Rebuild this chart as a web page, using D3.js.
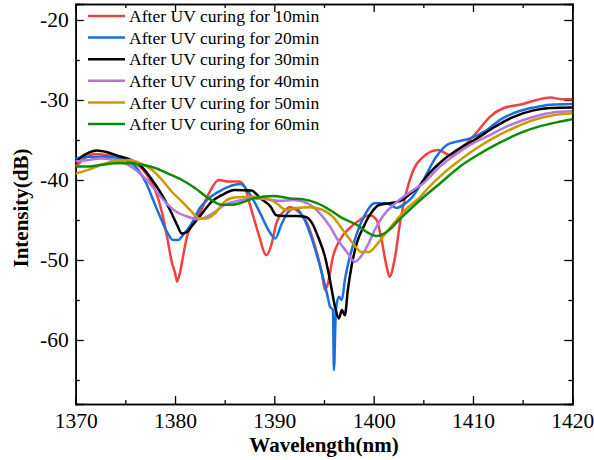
<!DOCTYPE html>
<html>
<head>
<meta charset="utf-8">
<script src="https://cdn.jsdelivr.net/npm/d3@7"></script>
<style>
  body { margin: 0; background: #fff; }
  svg text { font-family: "Liberation Serif", "Times New Roman", serif; }
</style>
</head>
<body>
<div id="chart"></div>
<script>
// dados: [comprimento de onda (nm), intensidade (dB)]
let uv10 = [[1370,-38.3],[1371.9,-36.75],[1374,-37.1],[1376,-37.9],[1377.3,-39.6],[1378,-41.25],[1378.7,-44.1],[1379.2,-47.1],[1379.7,-50.4],[1380,-51.6],[1380.2,-52.7],[1380.5,-51.6],[1380.8,-49.6],[1381.2,-47.1],[1381.7,-45.4],[1382.5,-44.1],[1383.4,-41.7],[1384.4,-40],[1385.4,-40.2],[1386.4,-40.2],[1387,-40.8],[1387.5,-42.9],[1388.4,-46.7],[1389.2,-49.4],[1389.7,-48.1],[1390.2,-45.4],[1390.9,-44],[1391.6,-43.4],[1392.2,-43.75],[1393.3,-45.4],[1394.1,-48.3],[1394.8,-51.7],[1395.1,-53.75],[1395.4,-52.9],[1395.9,-49.6],[1396.6,-47.5],[1397.6,-46],[1398.6,-45],[1399.6,-44.4],[1400.3,-45],[1400.8,-47.5],[1401.3,-50.8],[1401.6,-52.1],[1402.1,-50],[1402.7,-45],[1403.3,-41.5],[1404,-38.75],[1405,-37.1],[1406.5,-36.25],[1407.7,-36.9],[1409,-35.8],[1410.4,-34],[1411.7,-32.1],[1413.1,-31],[1414.7,-30.6],[1416.4,-30],[1417.8,-29.7],[1418.9,-29.9],[1420,-29.9]];
let uv20 = [[1370,-37.3],[1371.3,-37.1],[1373,-37.1],[1375,-37.5],[1376.3,-38.75],[1377.1,-40.4],[1377.8,-42.5],[1378.5,-44.6],[1379.2,-46.5],[1379.8,-47.5],[1380.3,-47.5],[1380.8,-46.9],[1381.7,-45.4],[1382.5,-43.5],[1383.4,-42.3],[1384.7,-41.25],[1386,-40.6],[1386.6,-40.5],[1387.5,-41.7],[1388.6,-44.2],[1389.4,-46.25],[1390.1,-47.3],[1390.7,-45.6],[1391.4,-44],[1392.1,-43.5],[1392.8,-44.4],[1393.6,-46.7],[1394.6,-50.8],[1395.3,-54.2],[1395.6,-55.8],[1395.9,-56.25],[1396.0,-63.75],[1396.2,-56.25],[1396.5,-54.6],[1396.8,-55],[1397.1,-52.5],[1397.6,-49.6],[1398.3,-46.7],[1399.1,-44.4],[1400.1,-42.9],[1401.3,-42.9],[1402.3,-43.5],[1403,-43.1],[1403.7,-42.4],[1405,-40],[1406.3,-37.1],[1407.4,-35.6],[1408.4,-35.2],[1409.7,-34.8],[1411.4,-33.75],[1412.7,-32.5],[1414.4,-31.5],[1416.1,-30.95],[1417.8,-30.6],[1420,-30.5]];
let uv30 = [[1370,-37.9],[1370.6,-37.1],[1371.3,-36.6],[1372.1,-36.3],[1373.1,-36.5],[1374.3,-37],[1375.6,-37.5],[1376.6,-38.3],[1377.7,-40],[1378.7,-41.9],[1379.5,-43.75],[1380.2,-45.6],[1380.7,-46.7],[1381.2,-46.5],[1381.8,-45.6],[1382.7,-44.2],[1383.7,-42.7],[1384.7,-41.9],[1386,-41.25],[1387.7,-41.3],[1388.6,-42.3],[1389.6,-43.3],[1390.2,-44.4],[1390.9,-44.5],[1392.2,-44.5],[1393.1,-44.6],[1393.8,-45.4],[1394.4,-47.1],[1395.1,-49.6],[1395.6,-52.5],[1396.1,-55.8],[1396.5,-57.3],[1396.8,-56.25],[1397.1,-56.9],[1397.4,-53.75],[1397.8,-50.6],[1398.3,-47.9],[1399,-45.8],[1399.6,-44.4],[1400.6,-43.1],[1401.6,-42.9],[1402.7,-42.6],[1403.7,-41.7],[1404.7,-40.6],[1405.3,-39.6],[1407,-37.5],[1408.7,-36],[1410.4,-34.8],[1412,-33.5],[1414.1,-32.1],[1416.1,-31.3],[1417.8,-31],[1420,-30.95]];
let uv40 = [[1370,-37.7],[1371.3,-37.5],[1372.6,-37.3],[1374,-37.5],[1375.3,-38.1],[1376.3,-39],[1377.3,-40.2],[1378.3,-41.7],[1379.3,-43.1],[1380.3,-44.1],[1381.3,-44.6],[1382.2,-44.9],[1383,-44.7],[1384,-44],[1385,-43.1],[1386,-42.7],[1387.9,-42.3],[1389.2,-42.4],[1390.6,-42.6],[1391.9,-42.5],[1393.3,-42.9],[1394.6,-44.2],[1395.6,-45.8],[1396.4,-47.5],[1397.3,-49],[1398.1,-50.2],[1398.8,-49.4],[1399.5,-47.9],[1400.1,-46.25],[1401,-44.4],[1402,-43.1],[1403,-42.1],[1404,-41.25],[1405,-40.4],[1406.7,-38.3],[1408.4,-36.7],[1410,-35.4],[1411.7,-34.4],[1413.4,-33.3],[1415.1,-32.5],[1416.7,-31.9],[1418.4,-31.5],[1420,-31.4]];
let uv50 = [[1370,-39.2],[1371.3,-38.7],[1372.6,-38.1],[1374,-37.6],[1375.3,-37.5],[1376.5,-37.9],[1377.7,-38.75],[1378.7,-40],[1379.7,-41.5],[1380.7,-42.7],[1381.7,-44],[1382.5,-44.8],[1383.2,-44.8],[1384,-44.2],[1385,-42.7],[1386,-42.2],[1387.9,-42.1],[1389.2,-42.3],[1390.2,-42.9],[1391.2,-43.75],[1392.2,-43.5],[1393.6,-43.4],[1394.9,-43.75],[1395.9,-44.6],[1396.9,-46.25],[1397.9,-47.9],[1398.8,-49],[1399.5,-49],[1400.3,-48.1],[1401.3,-46.5],[1402.3,-45],[1403.3,-43.6],[1404.7,-42.1],[1405.3,-41.25],[1407,-39.2],[1408.7,-37.5],[1410.4,-36],[1412,-34.8],[1414.1,-33.5],[1416.1,-32.5],[1418.1,-31.9],[1420,-31.7]];
let uv60 = [[1370,-38.3],[1371.3,-38.3],[1372.6,-38.1],[1374,-37.9],[1375.3,-37.9],[1376.6,-38.1],[1378,-38.5],[1379.3,-39.2],[1380.7,-40],[1382,-41],[1383.4,-42.3],[1384.7,-43.1],[1385.7,-43.1],[1387,-42.7],[1387.9,-42.3],[1389.9,-42],[1391.6,-42.3],[1392.9,-42.4],[1394.3,-42.9],[1395.6,-43.75],[1396.9,-44.8],[1398.3,-45.6],[1399.3,-46.5],[1400.3,-47],[1401.3,-46.5],[1402.7,-44.8],[1404.7,-42.5],[1406.7,-40.4],[1408.7,-38.3],[1410.7,-36.7],[1412.6,-35.4],[1414.6,-34.2],[1416.7,-33.3],[1418.4,-32.8],[1420,-32.4]];

let seriesNames = ['After UV curing for 10min','After UV curing for 20min','After UV curing for 30min','After UV curing for 40min','After UV curing for 50min','After UV curing for 60min'];
let seriesData = [uv10, uv20, uv30, uv40, uv50, uv60];
let seriesColors = ['#f14040','#1a6fdf','#000000','#b177de','#cc9900','#0e8a0e'];

let xTicks = [1370, 1380, 1390, 1400, 1410, 1420];
let yTicks = [-20, -30, -40, -50, -60];

// tamanho do grafico
let width = 594;
let height = 460;
let mLeft = 75.7, mRight = 572.3, mTop = 4, mBottom = 404;

let svg = d3.select('#chart').append('svg').attr('width', width).attr('height', height);

let x = d3.scaleLinear().domain([1370, 1420]).range([mLeft, mRight]);
let y = d3.scaleLinear().domain([-68, -18]).range([mBottom, mTop]);

// eixos com ticks para dentro
let xMinor = d3.range(1375, 1420, 10);
let yMinor = d3.range(-65, -18, 10);

let xAxis = d3.axisBottom(x).tickValues(xTicks).tickSize(-8).tickPadding(9).tickFormat(d3.format('d'));
let yAxis = d3.axisLeft(y).tickValues(yTicks).tickSize(-8).tickPadding(7).tickFormat(d => String(d));

let gx = svg.append('g').attr('class', 'axis x').attr('transform', 'translate(0,' + mBottom + ')').call(xAxis);
let gy = svg.append('g').attr('class', 'axis y').attr('transform', 'translate(' + mLeft + ',0)').call(yAxis);
gx.append('g').call(d3.axisBottom(x).tickValues(xMinor).tickSize(-4).tickFormat(''));
gy.append('g').call(d3.axisLeft(y).tickValues(yMinor).tickSize(-4).tickFormat(''));

// espelho em cima e na direita
let gt = svg.append('g').attr('transform', 'translate(0,' + mTop + ')');
gt.call(d3.axisTop(x).tickValues(xTicks).tickSize(-8).tickFormat(''));
gt.append('g').call(d3.axisTop(x).tickValues(xMinor).tickSize(-4).tickFormat(''));
let gr = svg.append('g').attr('transform', 'translate(' + mRight + ',0)');
gr.call(d3.axisRight(y).tickValues(yTicks).tickSize(-8).tickFormat(''));
gr.append('g').call(d3.axisRight(y).tickValues(yMinor).tickSize(-4).tickFormat(''));

svg.selectAll('.domain').attr('stroke', '#000').attr('stroke-width', 1.6);
svg.selectAll('.tick line').attr('stroke', '#000').attr('stroke-width', 1.3);
svg.selectAll('.tick text').attr('font-size', 21.5).attr('fill', '#000')
   .attr('font-family', '"Liberation Serif", "Times New Roman", serif');

// curvas
let line = d3.line()
  .x(function (d) { return x(d[0]); })
  .y(function (d) { return y(d[1]); })
  .curve(d3.curveMonotoneX);

let plot = svg.append('g');
for (let i = 0; i < seriesData.length; i++) {
  plot.append('path')
    .attr('fill', 'none')
    .attr('stroke', seriesColors[i])
    .attr('stroke-width', 2.5)
    .attr('stroke-linejoin', 'round')
    .attr('d', line(seriesData[i]));
}

// legenda
let leg = svg.append('g');
for (let i = 0; i < seriesNames.length; i++) {
  let ly = 16 + i * 21.6;
  leg.append('line')
    .attr('x1', 88).attr('x2', 125).attr('y1', ly).attr('y2', ly)
    .attr('stroke', seriesColors[i]).attr('stroke-width', 2.5);
  leg.append('text')
    .attr('x', 129).attr('y', ly).attr('dy', '0.35em')
    .attr('font-size', 17.6).attr('fill', '#000')
    .text(seriesNames[i]);
}

// titulos
svg.append('text')
  .attr('x', (mLeft + mRight) / 2).attr('y', 452)
  .attr('text-anchor', 'middle').attr('font-size', 21).attr('font-weight', 'bold')
  .text('Wavelength(nm)');
svg.append('text')
  .attr('transform', 'translate(28,' + ((mTop + mBottom) / 2 + 4) + ') rotate(-90)')
  .attr('text-anchor', 'middle').attr('font-size', 21).attr('font-weight', 'bold')
  .text('Intensity(dB)');
</script>
</body>
</html>
